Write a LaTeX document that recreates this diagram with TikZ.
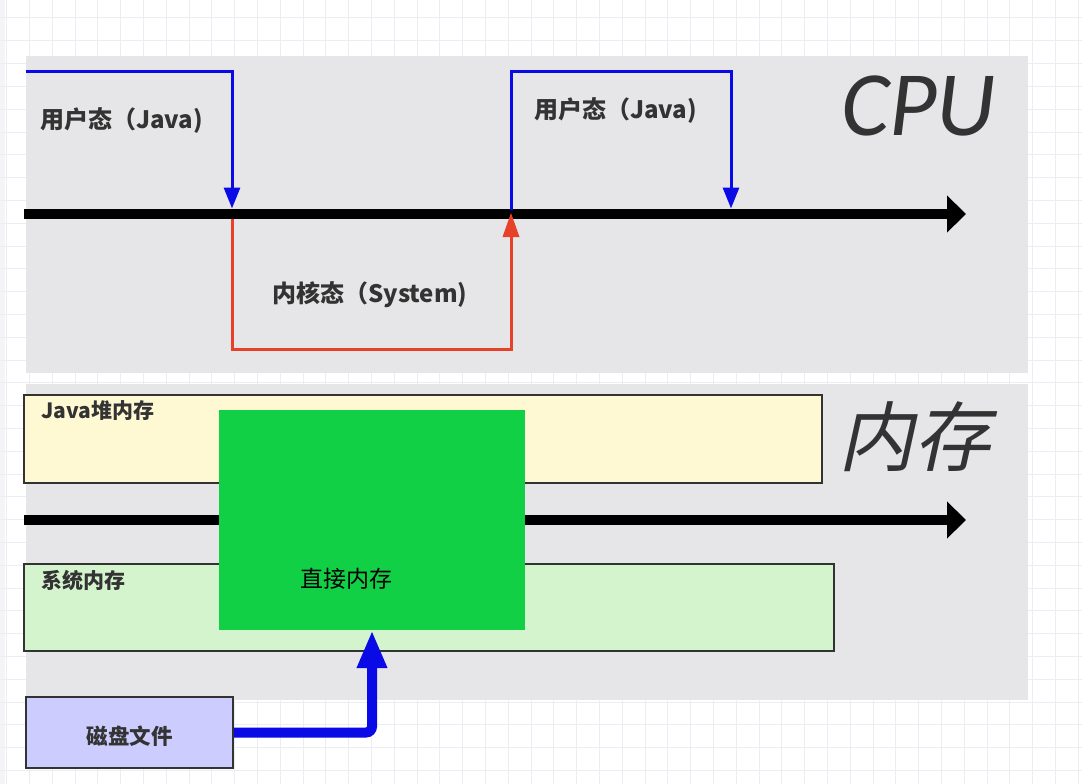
\documentclass[tikz,border=0pt]{standalone}
\usepackage{fontspec}
\newfontfamily\cjk{Noto Sans CJK SC}
\newfontfamily\cjkslant[FakeSlant=0.22]{Noto Sans CJK SC}
\newfontfamily\cpufont{Carlito}
\usetikzlibrary{arrows.meta}
\definecolor{gridc}{HTML}{ECECF2}
\definecolor{panelc}{HTML}{E6E6E8}
\definecolor{txt}{HTML}{333333}
\definecolor{bluec}{HTML}{0A0AE6}
\definecolor{redc}{HTML}{E8412A}
\definecolor{heapc}{HTML}{FFF9D3}
\definecolor{sysc}{HTML}{D4F4CE}
\definecolor{directc}{HTML}{12D045}
\definecolor{diskc}{HTML}{CCCCFF}
\tikzset{
  panel/.style={fill=panelc, draw=none, inner sep=0pt, anchor=north west},
  membox/.style={draw=txt, line width=2pt, inner sep=0pt},
  axisarrow/.style={line width=10.5pt, -{Triangle[length=19pt,width=36pt]}},
  bluethin/.style={draw=bluec, line width=3pt},
  redthin/.style={draw=redc, line width=3pt},
  tiphead/.style={-{Triangle[length=21pt,width=16pt]}},
  lbl/.style={text=txt, font=\cjk\bfseries\fontsize{24}{28}\selectfont, inner sep=0pt},
  boxlbl/.style={text=txt, font=\cjk\bfseries\fontsize{21}{24}\selectfont, inner sep=0pt, anchor=west},
}
\begin{document}
\begin{tikzpicture}[x=1pt,y=-1pt]
\useasboundingbox (0,0) rectangle (1082,784);
\fill[white] (0,0) rectangle (1082,784);
\fill[gridc!60] (0,0) rectangle (5,784);
\foreach \i in {0,...,47} \draw[gridc, line width=1pt] ({6.7+22.8*\i},0) -- ({6.7+22.8*\i},784);
\foreach \j in {0,...,34} \draw[gridc, line width=1pt] (0,{18+22.8*\j}) -- (1082,{18+22.8*\j});

% panels
\node[panel, minimum width=1002pt, minimum height=317pt] (cpupanel) at (26,56) {};
\node[panel, minimum width=1002pt, minimum height=316pt] (mempanel) at (26,384) {};

% CPU axis
\coordinate (cs) at (24,214);
\coordinate (ce) at (966,214);
\draw[axisarrow] (cs) -- (ce);
\coordinate (u1) at (26,72);
\coordinate (t1) at (232,208.5);
\coordinate (b1) at (232,219);
\coordinate (t2) at (511,210);
\coordinate (b2) at (511,213);
\coordinate (t3) at (731,208.5);
\coordinate (k1) at (511,349);
\coordinate (u2) at (731,72);

\draw[bluethin, tiphead] (u1) -| (t1);
\draw[redthin] (b1) |- (k1) -- ([yshift=-14pt]b2);
\draw[redthin, draw=none, fill=redc] (b2) -- ++(-8.5,24) -- ++(17,0) -- cycle;
\draw[bluethin, tiphead] (t2) |- (u2) -- (t3);

\node[lbl, anchor=west] (ujava1) at (40,121) {用户态（Java)};
\node[lbl, anchor=west] (ujava2) at (534,111) {用户态（Java)};
\node[lbl, anchor=west] (ksys) at (272,295) {内核态（System)};
\node[text=txt, font=\cpufont\itshape\fontsize{92}{96}\selectfont, inner sep=0pt, anchor=west] (cpulbl) at (841,106) {CPU};

% memory
\node[membox, fill=heapc, minimum width=798pt, minimum height=88pt] (heap) at (423,439) {};
\node[boxlbl] (heaplbl) at (41,411) {Java堆内存};
\coordinate (ms) at (24,520);
\coordinate (me) at (966,520);
\draw[axisarrow] (ms) -- (me);
\node[membox, fill=sysc, minimum width=810pt, minimum height=87pt] (sysmem) at (429,607.5) {};
\node[boxlbl] (syslbl) at (41,580) {系统内存};
\node[fill=directc, draw=none, inner sep=0pt, minimum width=306pt, minimum height=220pt] (direct) at (372,520) {};
\node[font=\cjk\fontsize{23}{26}\selectfont, inner sep=0pt] (directlbl) at (346,579) {直接内存};
\node[text=txt, font=\cjkslant\fontsize{76}{80}\selectfont, inner sep=0pt, anchor=west] (memlbl) at (838,437) {内存};

% disk
\node[membox, fill=diskc, minimum width=207pt, minimum height=71pt] (disk) at (129.5,732.5) {};
\node[text=txt, font=\cjk\bfseries\fontsize{21.5}{25}\selectfont, inner sep=0pt] (disklbl) at (129.5,736) {磁盘文件};
\draw[draw=bluec, line width=10pt, rounded corners=6pt, -{Triangle[length=38pt,width=28pt]}] (disk.east) -| (direct.south);
\end{tikzpicture}
\end{document}
